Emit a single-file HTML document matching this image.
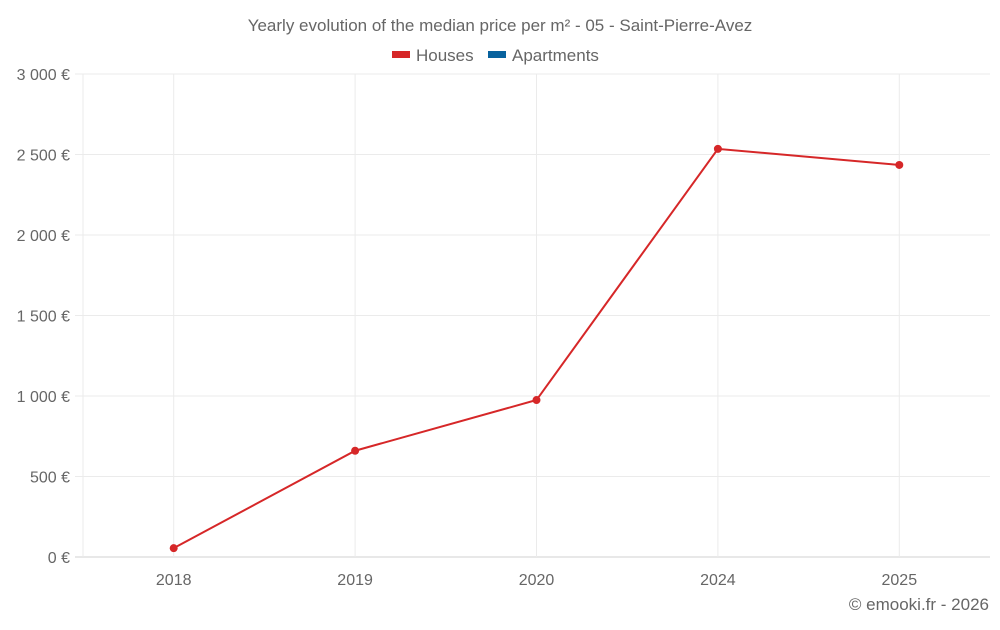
<!DOCTYPE html>
<html><head><meta charset="utf-8"><style>
body{margin:0;background:#fff;font-family:"Liberation Sans",sans-serif;}
svg text{font-family:"Liberation Sans",sans-serif;fill:#666;}
</style></head><body>
<svg id="chart" width="1000" height="625" xmlns="http://www.w3.org/2000/svg">
<text x="500" y="31" text-anchor="middle" font-size="17">Yearly evolution of the median price per m² - 05 - Saint-Pierre-Avez</text>
<g>
<rect x="392" y="51" width="18" height="7" fill="#d62728"/>
<text x="416" y="61" font-size="17">Houses</text>
<rect x="488" y="51" width="18" height="7" fill="#08629e"/>
<text x="512" y="61" font-size="17">Apartments</text>
</g>
<g id="grid"></g><g id="axes"></g><g id="series"></g>
<text x="989" y="610" text-anchor="end" font-size="17">© emooki.fr - 2026</text>
</svg>
<script>
const categories=["2018","2019","2020","2024","2025"];
const housesValues=[55,660,975,2535,2435];
const yTicks=[0,500,1000,1500,2000,2500,3000];
const yTickLabels=["0 €","500 €","1 000 €","1 500 €","2 000 €","2 500 €","3 000 €"];
const NS="http://www.w3.org/2000/svg";
const L=83,R=990,T=74,B=557,yMax=3000;
const bw=(R-L)/categories.length;
const x=i=>L+bw*(i+0.5);
const y=v=>B-(v/yMax)*(B-T);
function mk(tag,attrs,parent){const e=document.createElementNS(NS,tag);for(const k in attrs)e.setAttribute(k,attrs[k]);parent.appendChild(e);return e;}
const grid=document.getElementById('grid'),axes=document.getElementById('axes'),ser=document.getElementById('series');
yTicks.forEach((t,i)=>{
 const ln=mk('line',{x1:75,x2:R,y1:y(t),y2:y(t),stroke:t===0?'#d0d0d0':'#ebebeb','stroke-width':1},grid);
 
 
 const tx=mk('text',{x:70,y:y(t)+6,'text-anchor':'end','font-size':16},axes);
 tx.textContent=yTickLabels[i];
 
 
});
const lb=mk('line',{x1:L,x2:L,y1:T,y2:B,stroke:'#ebebeb','stroke-width':1},grid);


categories.forEach((c,i)=>{
 const ln=mk('line',{x1:x(i),x2:x(i),y1:T,y2:B,stroke:'#ebebeb','stroke-width':1},grid);
 
 
 const tx=mk('text',{x:x(i),y:585,'text-anchor':'middle','font-size':16},axes);
 tx.textContent=c;
 
 
});
const pts=housesValues.map((v,i)=>x(i)+','+y(v)).join(' ');
const pl=mk('polyline',{points:pts,fill:'none',stroke:'#d62728','stroke-width':2},ser);


housesValues.forEach((v,i)=>{
 const c=mk('circle',{cx:x(i),cy:y(v),r:4,fill:'#d62728'},ser);
 
 
});
</script>
</body></html>
